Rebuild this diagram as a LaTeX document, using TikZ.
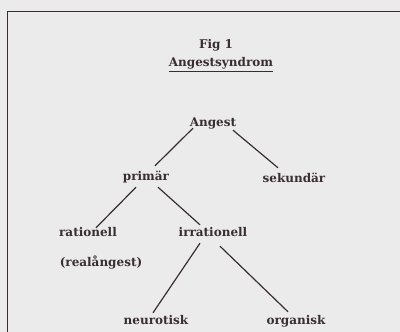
\documentclass[tikz,border=0pt]{standalone}
\usepackage{fontspec}
\setmainfont{DejaVu Serif}
\usetikzlibrary{positioning}
\definecolor{paper}{RGB}{236,235,236}
\definecolor{ink}{RGB}{55,45,50}

\begin{document}
\begin{tikzpicture}[
  x=1pt, y=1pt,
  term/.style={anchor=base, inner sep=0pt, text height=8pt, text depth=0pt, font=\bfseries\fontsize{12}{14}\selectfont, text=ink},
  branch/.style={draw=ink, line width=1.2pt},
]
  \clip (0,0) rectangle (400,332);
  \fill[paper] (0,0) rectangle (400,332);
  \draw[ink, line width=0.9pt] (7,-10) -- (7,321) -- (410,321);

  \node[term] (fig) at (216,283) {Fig 1};
  \node[term] (title) at (221,265) {\underline{Angestsyndrom}};

  \node[term] (ang) at (213,205) {Angest};
  \node[term] (pri) at (146,151) {primär};
  \node[term] (sek) at (294,149) {sekundär};
  \node[term] (rat) at (88,95) {rationell};
  \node[term] (irr) at (213,95) {irrationell};
  \node[term] (real) at (101,65) {(realångest)};
  \node[term] (neu) at (156,7) {neurotisk};
  \node[term] (org) at (296,7) {organisk};

  \draw[branch] ([shift={(-20pt,-1pt)}]ang.south) -- ([shift={(9pt,7pt)}]pri.north);
  \draw[branch] ([shift={(20pt,-3pt)}]ang.south) -- ([shift={(-16pt,7pt)}]sek.north);
  \draw[branch] ([shift={(-10pt,-6pt)}]pri.south) -- ([shift={(8pt,1pt)}]rat.north);
  \draw[branch] ([shift={(12pt,-6pt)}]pri.south) -- ([shift={(-13pt,4pt)}]irr.north);
  \draw[branch] ([shift={(-13pt,-6pt)}]irr.south) -- ([shift={(-3pt,4pt)}]neu.north);
  \draw[branch] ([shift={(7pt,-9pt)}]irr.south) -- ([shift={(-8pt,5pt)}]org.north);
\end{tikzpicture}
\end{document}
